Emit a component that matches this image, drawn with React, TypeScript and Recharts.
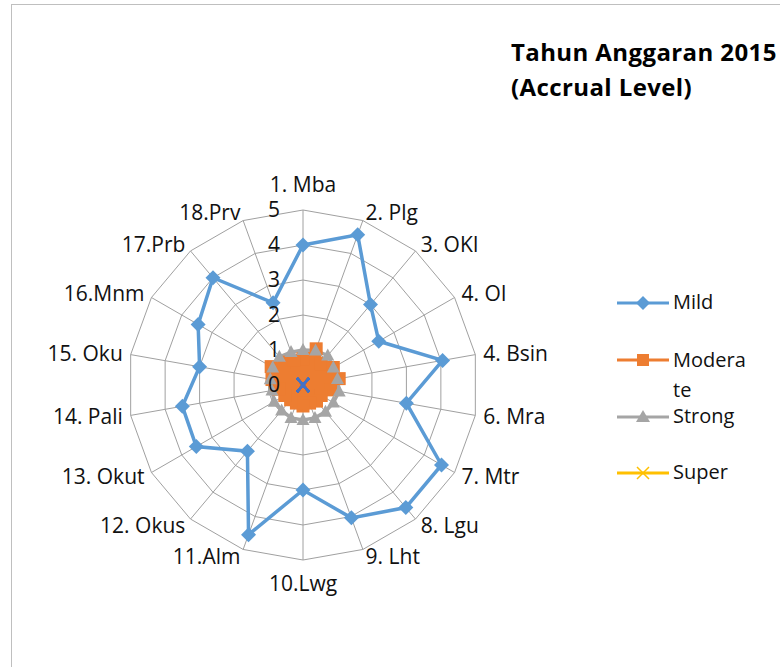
import React from 'react';
import {
  RadarChart,
  Radar,
  PolarGrid,
  PolarAngleAxis,
  PolarRadiusAxis,
} from 'recharts';

// categories and series values
const regions = [
  '1. Mba', '2. Plg', '3. OKI', '4. OI', '4. Bsin', '6. Mra', '7. Mtr', '8. Lgu', '9. Lht',
  '10.Lwg', '11.Alm', '12. Okus', '13. Okut', '14. Pali', '15. Oku', '16.Mnm', '17.Prb', '18.Prv',
];
const mild = [4.0, 4.57, 3.0, 2.5, 4.05, 3.0, 4.57, 4.57, 4.04, 3.0, 4.55, 2.47, 3.52, 3.5, 3.0, 3.46, 4.0, 2.5];
const moderate = [0.75, 1.1, 0.8, 1.0, 1.05, 0.8, 0.6, 0.6, 0.55, 0.6, 0.55, 0.55, 0.6, 0.7, 0.9, 1.05, 0.85, 0.75];
const strong = [1.0, 1.05, 1.1, 1.0, 1.0, 1.05, 1.0, 1.0, 1.0, 1.0, 1.0, 0.95, 0.95, 0.9, 0.95, 1.0, 1.05, 1.0];
const superLevel = [0, 0, 0, 0, 0, 0, 0, 0, 0, 0, 0, 0, 0, 0, 0, 0, 0, 0];
const radiusTicks = [0, 1, 2, 3, 4, 5];

const data = regions.map((name, i) => ({
  name,
  Mild: mild[i],
  Moderate: moderate[i],
  Strong: strong[i],
  Super: superLevel[i],
}));

const FONT = '"Open Sans", sans-serif';
const CX = 303;
const CY = 385;

const AngleTick = ({ x, y, payload, textAnchor }: any) => {
  let dy = 0;
  if (Math.abs(x - CX) < 1) dy = y < CY ? -17 : 16;
  return (
    <text x={x} y={y + dy} dy="0.35em" textAnchor={textAnchor} fontSize={21} fontFamily={FONT} fill="#111">
      {payload.value}
    </text>
  );
};

const RadiusTick = ({ x, y, payload }: any) => (
  <text x={x - 23} y={y} dy="0.35em" textAnchor="end" fontSize={21} fontFamily={FONT} fill="#111">
    {payload.value}
  </text>
);

const Diamond = ({ cx, cy }: any) => (
  <path d={`M${cx},${cy - 7.5}L${cx + 7.5},${cy}L${cx},${cy + 7.5}L${cx - 7.5},${cy}Z`} fill="#5B9BD5" />
);
const Square = ({ cx, cy }: any) => <rect x={cx - 6.5} y={cy - 6.5} width={13} height={13} fill="#ED7D31" />;
const Triangle = ({ cx, cy }: any) => (
  <path d={`M${cx},${cy - 7}L${cx + 6.5},${cy + 5}L${cx - 6.5},${cy + 5}Z`} fill="#A5A5A5" />
);
const CenterCross = ({ cx, cy }: any) => (
  <path d={`M${cx - 6},${cy - 7}L${cx + 6},${cy + 7}M${cx - 6},${cy + 7}L${cx + 6},${cy - 7}`} stroke="#4472C4" strokeWidth={2} />
);

const legendItems = [
  { label: 'Mild', color: '#5B9BD5', top: 303, marker: 'diamond' },
  { label: 'Moderate', color: '#ED7D31', top: 360, marker: 'square' },
  { label: 'Strong', color: '#A5A5A5', top: 417, marker: 'triangle' },
  { label: 'Super', color: '#FFC000', top: 473, marker: 'cross' },
];

const LegendMarker = ({ kind, color }: any) => {
  const cx = 26, cy = 10;
  return (
    <svg width={52} height={20} style={{ position: 'absolute', left: 0, top: -10 }}>
      <line x1={0} y1={cy} x2={52} y2={cy} stroke={color} strokeWidth={3} />
      {kind === 'diamond' && <path d={`M${cx},${cy - 7}L${cx + 7},${cy}L${cx},${cy + 7}L${cx - 7},${cy}Z`} fill={color} />}
      {kind === 'square' && <rect x={cx - 6} y={cy - 6} width={12} height={12} fill={color} />}
      {kind === 'triangle' && <path d={`M${cx},${cy - 7}L${cx + 7},${cy + 5}L${cx - 7},${cy + 5}Z`} fill={color} />}
      {kind === 'cross' && (
        <path d={`M${cx - 6},${cy - 6}L${cx + 6},${cy + 6}M${cx - 6},${cy + 6}L${cx + 6},${cy - 6}`} stroke={color} strokeWidth={1.5} />
      )}
    </svg>
  );
};

export default function App() {
  return (
    <div style={{ position: 'fixed', left: 0, top: 0, width: 780, height: 667, background: '#fff', overflow: 'hidden' }}>
      {/* chart area border */}
      <div style={{ position: 'absolute', left: 11, top: 4, width: 800, height: 700, border: '1px solid #BFBFBF' }} />

      <div style={{ position: 'absolute', left: 511, top: 34, fontFamily: FONT, fontWeight: 700, fontSize: 24, lineHeight: '35px', color: '#000', whiteSpace: 'nowrap', letterSpacing: 0.4 }}>
        <div>Tahun Anggaran 2015</div>
        <div>(Accrual Level)</div>
      </div>

      <div style={{ position: 'absolute', left: 0, top: 0 }}>
        <RadarChart width={780} height={667} data={data} cx={CX} cy={CY} outerRadius={175}>
          <PolarGrid gridType="polygon" stroke="#A0A0A0" strokeWidth={1} />
          <PolarAngleAxis dataKey="name" tick={<AngleTick />} tickLine={false} axisLine={false} />
          <Radar dataKey="Mild" stroke="#5B9BD5" strokeWidth={3.5} fill="none" fillOpacity={0} dot={<Diamond />} isAnimationActive={false} />
          <Radar dataKey="Moderate" stroke="#ED7D31" strokeWidth={5} fill="#ED7D31" fillOpacity={1} dot={<Square />} isAnimationActive={false} />
          <Radar dataKey="Strong" stroke="#A5A5A5" strokeWidth={3.5} fill="none" fillOpacity={0} dot={<Triangle />} isAnimationActive={false} />
          <Radar dataKey="Super" stroke="#FFC000" strokeWidth={2} fill="none" fillOpacity={0} dot={<CenterCross />} isAnimationActive={false} />
          <PolarRadiusAxis
            angle={90}
            domain={[0, 5]}
            ticks={radiusTicks as any}
            tickCount={6}
            tick={<RadiusTick />}
            axisLine={false}
            tickLine={false}
            zIndex={1000 as any}
          />
        </RadarChart>
      </div>

      {legendItems.map((item) => (
        <div key={item.label} style={{ position: 'absolute', left: 617, top: item.top, height: 0 }}>
          <LegendMarker kind={item.marker} color={item.color} />
          {item.label === 'Moderate' ? (
            <div style={{ position: 'absolute', left: 56, top: -15, fontFamily: FONT, fontSize: 20, lineHeight: '30px', color: '#111', width: 80 }}>
              <div>Modera</div>
              <div>te</div>
            </div>
          ) : (
            <div style={{ position: 'absolute', left: 56, top: -15, fontFamily: FONT, fontSize: 20, lineHeight: '28px', color: '#111', whiteSpace: 'nowrap' }}>
              {item.label}
            </div>
          )}
        </div>
      ))}
    </div>
  );
}
